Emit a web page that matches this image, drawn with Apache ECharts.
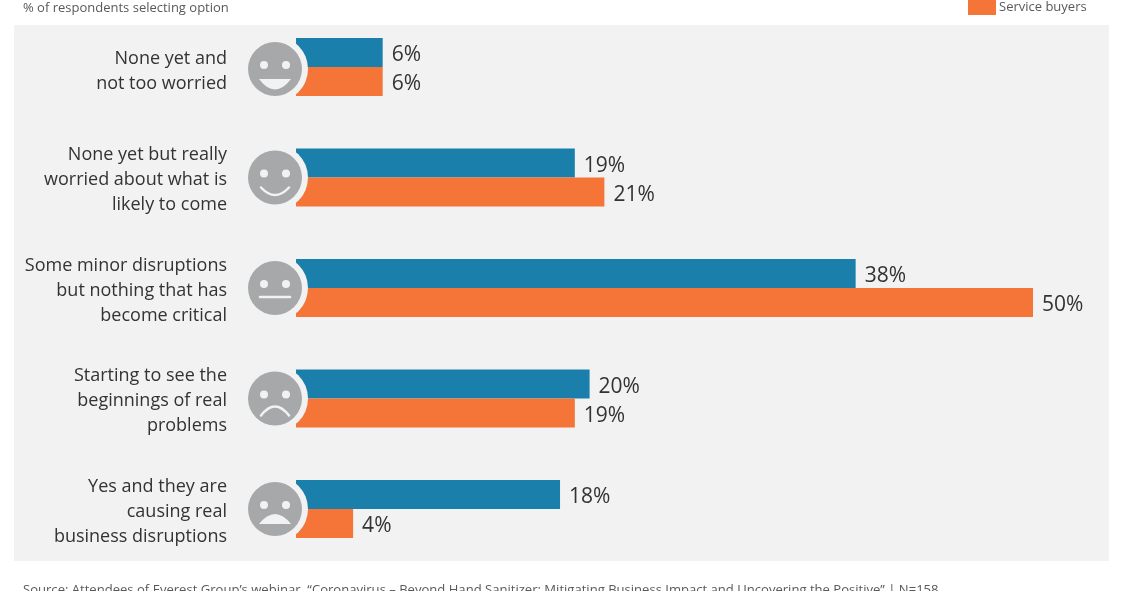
<!DOCTYPE html>
<html lang="en">

<head>
  <meta charset="UTF-8">
  <title>% of respondents selecting option</title>
  <style>
    html,
    body {
      margin: 0;
      padding: 0;
      overflow: hidden;
      background: #fff;
    }

    #chart {
      width: 1130px;
      height: 591px;
    }
  </style>
</head>

<body>
  <div id="chart"></div>
  <script src="https://cdn.jsdelivr.net/npm/echarts@6/dist/echarts.min.js"></script>
  <script>
    const categories = [
      'None yet and\nnot too worried',
      'None yet but really\nworried about what is\nlikely to come',
      'Some minor disruptions\nbut nothing that has\nbecome critical',
      'Starting to see the\nbeginnings of real\nproblems',
      'Yes and they are\ncausing real\nbusiness disruptions'
    ];
    const otherValues = [6, 19, 38, 20, 18];
    const serviceBuyerValues = [6, 21, 50, 19, 4];
    const moods = ['grin', 'smile', 'neutral', 'frown', 'upset'];

    const fontName = '"Open Sans", sans-serif';
    const panelColor = '#f2f2f2';
    const faceColor = '#a6a8a9';

    const myChart = echarts.init(document.querySelector('#chart'));

    // mouth of each smiley, relative to the face centre
    function mouth(mood) {
      const line = { stroke: panelColor, lineWidth: 2.5, lineCap: 'round', fill: null };
      const solid = { fill: panelColor };
      if (mood === 'grin') {
        return { type: 'bezierCurve', shape: { x1: -16, y1: 10, x2: 16, y2: 10, cpx1: 0, cpy1: 31 }, style: solid };
      }
      if (mood === 'smile') {
        return { type: 'bezierCurve', shape: { x1: -14, y1: 10, x2: 14, y2: 10, cpx1: 0, cpy1: 25 }, style: line };
      }
      if (mood === 'neutral') {
        return { type: 'line', shape: { x1: -15, y1: 9, x2: 15, y2: 9 }, style: line };
      }
      if (mood === 'frown') {
        return { type: 'bezierCurve', shape: { x1: -14, y1: 17, x2: 14, y2: 17, cpx1: 0, cpy1: -1 }, style: line };
      }
      return { type: 'bezierCurve', shape: { x1: -16, y1: 15, x2: 16, y2: 15, cpx1: 0, cpy1: -5 }, style: solid };
    }

    // smiley sits left of the zero line, with a panel coloured ring cutting into the bars
    function renderFace(params, api) {
      const point = api.coord([0, api.value(1)]);
      const mood = moods[params.dataIndex];
      return {
        type: 'group',
        x: point[0] - 19,
        y: point[1] + (params.dataIndex === 0 ? 2 : 0),
        children: [
          { type: 'rect', shape: { x: 0, y: -31, width: 21, height: 62 }, style: { fill: panelColor } },
          { type: 'circle', shape: { cx: 0, cy: 0, r: 33 }, style: { fill: panelColor } },
          { type: 'circle', shape: { cx: 0, cy: 0, r: 27 }, style: { fill: faceColor } },
          { type: 'circle', shape: { cx: -11, cy: -4, r: 4 }, style: { fill: panelColor } },
          { type: 'circle', shape: { cx: 11, cy: -4, r: 4 }, style: { fill: panelColor } },
          mouth(mood)
        ]
      };
    }

    // a thin empty line on top pushes the centred label block down a little
    function categoryLabel(value, index) {
      const gap = index === 0 ? '{gapBig| }' : '{gap| }';
      return gap + '\n' + value.split('\n').map(function (t) { return '{txt|' + t + '}'; }).join('\n');
    }

    const valueLabel = {
      show: true,
      position: 'right',
      distance: 9,
      offset: [0, 3],
      formatter: '{c}%',
      fontFamily: fontName,
      fontSize: 21,
      color: '#333333'
    };

    myChart.setOption({
      animation: false,
      backgroundColor: '#ffffff',
      title: [
        {
          text: '% of respondents selecting option',
          left: 23,
          top: 1.5,
          padding: 0,
          textStyle: { fontFamily: fontName, fontSize: 13, fontWeight: 'normal', color: '#595959' }
        },
        {
          text: 'Source: Attendees of Everest Group\u2019s webinar, \u201cCoronavirus \u2013 Beyond Hand Sanitizer: Mitigating Business Impact and Uncovering the Positive\u201d | N=158',
          left: 23,
          top: 584,
          padding: 0,
          textStyle: { fontFamily: fontName, fontSize: 13.07, fontWeight: 'normal', color: '#595959' }
        }
      ],
      legend: {
        data: ['Service buyers'],
        left: 968,
        top: -1,
        padding: 0,
        itemWidth: 28,
        itemHeight: 16,
        itemGap: 1,
        icon: 'rect',
        textStyle: { fontFamily: fontName, fontSize: 13, color: '#595959', padding: [0, 0, 0, -2] }
      },
      graphic: [
        {
          type: 'rect',
          z: -1,
          shape: { x: 14, y: 25, width: 1095, height: 536 },
          style: { fill: panelColor }
        }
      ],
      grid: { left: 294, top: 11.75, width: 739, height: 552.5 },
      xAxis: { type: 'value', min: 0, max: 50, show: false },
      yAxis: {
        type: 'category',
        inverse: true,
        data: categories,
        axisLine: { show: false },
        axisTick: { show: false },
        axisLabel: {
          margin: 67,
          align: 'right',
          formatter: categoryLabel,
          rich: {
            txt: { fontFamily: fontName, fontSize: 18, lineHeight: 25, color: '#333333' },
            gap: { fontSize: 4, lineHeight: 5 },
            gapBig: { fontSize: 4, lineHeight: 8 }
          }
        }
      },
      series: [
        {
          name: 'Other respondents',
          type: 'bar',
          data: otherValues,
          barWidth: 29,
          barGap: 0,
          z: 2,
          itemStyle: { color: '#1a7fab' },
          label: valueLabel
        },
        {
          name: 'Service buyers',
          type: 'bar',
          data: serviceBuyerValues,
          barWidth: 29,
          barGap: 0,
          z: 2,
          itemStyle: { color: '#f47537' },
          label: valueLabel
        },
        {
          name: 'Faces',
          type: 'custom',
          renderItem: renderFace,
          data: categories.map(function (c, i) { return [0, i]; }),
          encode: { x: 0, y: 1 },
          z: 5,
          silent: true
        }
      ]
    });
  </script>
</body>

</html>
